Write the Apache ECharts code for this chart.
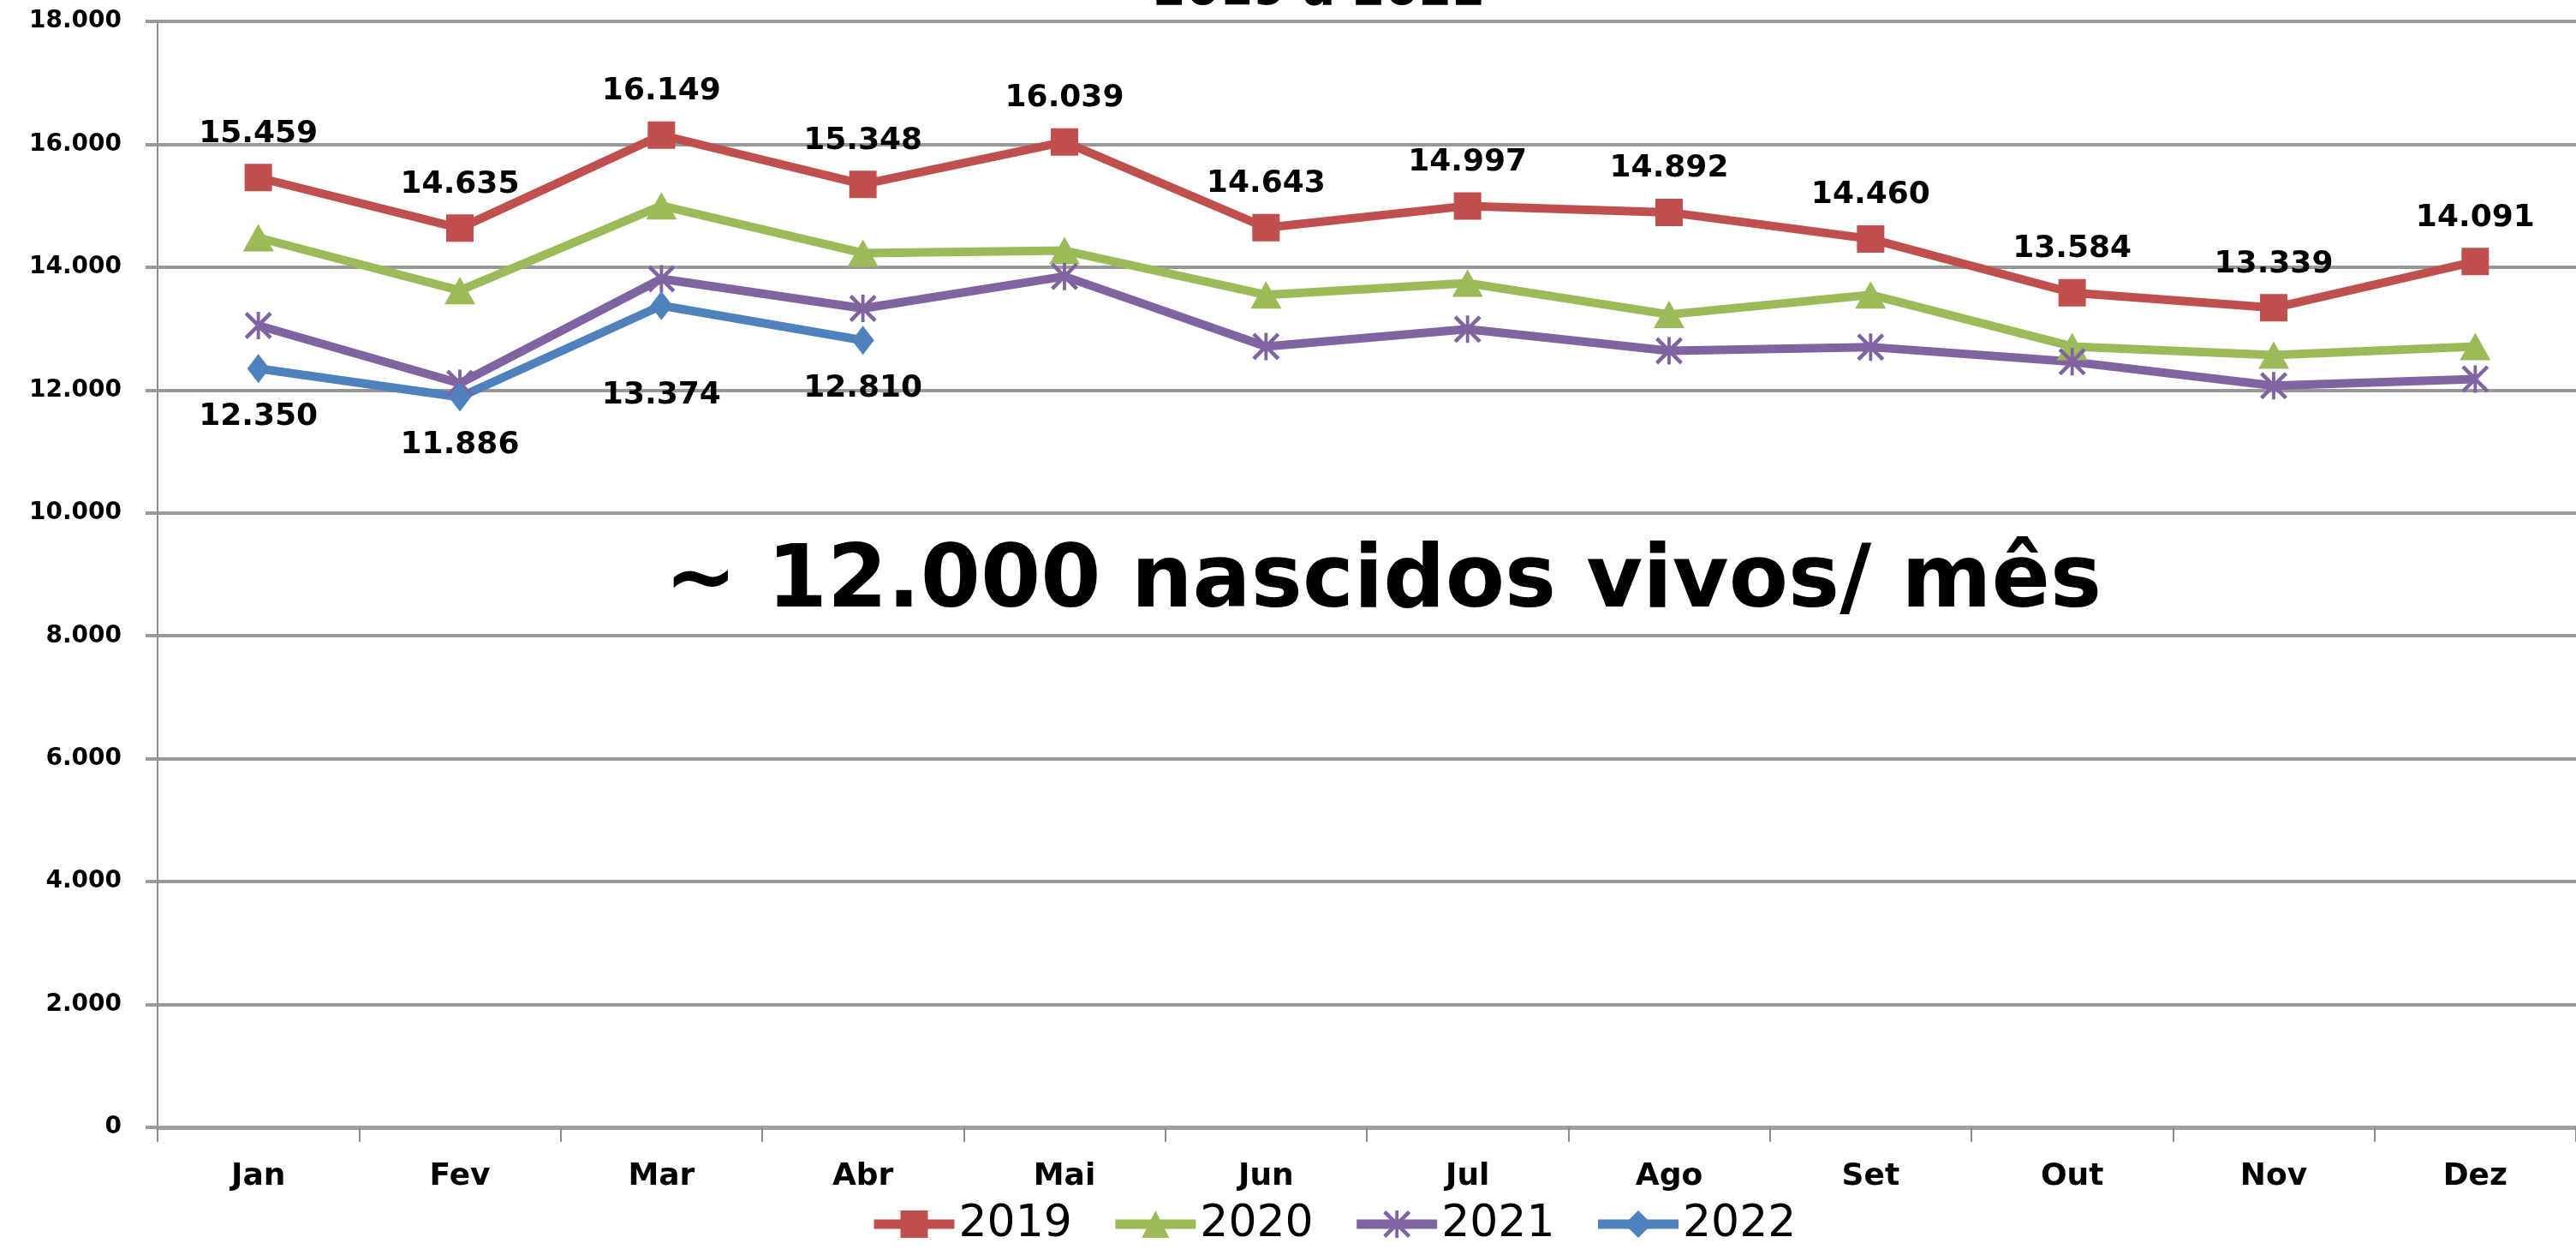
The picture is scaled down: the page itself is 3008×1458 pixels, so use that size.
<!DOCTYPE html>
<html lang="pt">
<head>
	<meta charset="UTF-8">
	<title>Nascidos vivos 2019 a 2022</title>
	<style>
		html, body { margin: 0; padding: 0; background: #fff; }
		#chart { width: 3008px; height: 1458px; }
	</style>
</head>
<body>
	<div id="chart"></div>
</body>
<script src="https://cdn.jsdelivr.net/npm/echarts@6/dist/echarts.min.js"></script>
<script>

    //meses
    var meses = ['Jan', 'Fev', 'Mar', 'Abr', 'Mai', 'Jun', 'Jul', 'Ago', 'Set', 'Out', 'Nov', 'Dez'];
    //nascidos vivos por ano
    var v2019 = [15459, 14635, 16149, 15348, 16039, 14643, 14997, 14892, 14460, 13584, 13339, 14091];
    var v2020 = [14480, 13620, 15000, 14230, 14270, 13550, 13740, 13230, 13550, 12710, 12570, 12710];
    var v2021 = [13050, 12110, 13810, 13330, 13850, 12710, 12990, 12640, 12700, 12460, 12070, 12180];
    var v2022 = [12350, 11886, 13374, 12810];
    var anos = ['2019', '2020', '2021', '2022'];
    var cores = ['#C0504D', '#9BBB59', '#8064A2', '#4F81BD'];

    var fonte = 'DejaVu Sans';

    //marcador estrela (x com traço vertical)
    var estrela = 'path://M0,1L1,0L10,9L9,10ZM9,0L10,1L1,10L0,9ZM4.4,0L5.6,0L5.6,10L4.4,10Z';

    //formato 12.345
    function milhar(v) {
        return String(v).replace(/\B(?=(\d{3})+(?!\d))/g, '.');
    }

    var myChart = echarts.init(document.getElementById('chart'));

    var rotulo = {
        show: true,
        fontFamily: fonte,
        fontWeight: 'bold',
        fontSize: 36,
        color: '#000',
        formatter: function (p) { return milhar(p.value); }
    };

    var option = {
        backgroundColor: '#fff',
        color: cores,
        title: {
            text: '2019 a 2022',
            left: 1341,
            top: -43,
            textStyle: { fontFamily: fonte, fontWeight: 'bold', fontSize: 56, color: '#000' }
        },
        legend: {
            data: anos,
            left: 1010,
            top: 1398,
            itemWidth: 94,
            itemHeight: 40,
            itemGap: 45,
            lineStyle: { width: 11 },
            textStyle: { fontFamily: fonte, fontSize: 52, color: '#000' }
        },
        grid: {
            left: 184,
            right: -10,
            top: 25,
            bottom: 142
        },
        xAxis: {
            type: 'category',
            data: meses,
            boundaryGap: true,
            axisLine: { lineStyle: { color: '#a0a0a0', width: 5 } },
            axisTick: { show: true, length: 17, lineStyle: { color: '#8c8c8c', width: 2 } },
            axisLabel: { fontFamily: fonte, fontWeight: 'bold', fontSize: 36, color: '#000', margin: 40 }
        },
        yAxis: {
            type: 'value',
            min: 0,
            max: 18000,
            interval: 2000,
            axisLine: { show: true, lineStyle: { color: '#8c8c8c', width: 2 } },
            axisTick: { show: true, length: 14, lineStyle: { color: '#999', width: 4 } },
            splitLine: { lineStyle: { color: '#999', width: 4 } },
            axisLabel: {
                fontFamily: fonte, fontWeight: 'bold', fontSize: 28, color: '#000', margin: 42,
                formatter: function (v) { return milhar(v); }
            }
        },
        graphic: [{
            type: 'text',
            left: 776,
            top: 631,
            style: {
                text: '~ 12.000 nascidos vivos/ mês',
                fontFamily: fonte,
                fontWeight: 'bold',
                fontSize: 101,
                fill: '#000'
            }
        }],
        series: [{
            name: '2019',
            type: 'line',
            data: v2019,
            symbol: 'rect',
            symbolSize: 32,
            lineStyle: { width: 10 },
            label: Object.assign({}, rotulo, { position: 'top', distance: 17 })
        }, {
            name: '2020',
            type: 'line',
            data: v2020,
            symbol: 'triangle',
            symbolSize: [36, 32],
            lineStyle: { width: 10 }
        }, {
            name: '2021',
            type: 'line',
            data: v2021,
            symbol: estrela,
            symbolSize: 32,
            lineStyle: { width: 10 }
        }, {
            name: '2022',
            type: 'line',
            data: v2022.map(function (v, i) {
                //rótulo de março fica mais abaixo
                return i === 2 ? { value: v, label: { distance: 70 } } : v;
            }),
            symbol: 'diamond',
            symbolSize: [26, 34],
            lineStyle: { width: 10 },
            label: Object.assign({}, rotulo, { position: 'bottom', distance: 21 })
        }]
    };

    myChart.setOption(option);

</script>
</html>
